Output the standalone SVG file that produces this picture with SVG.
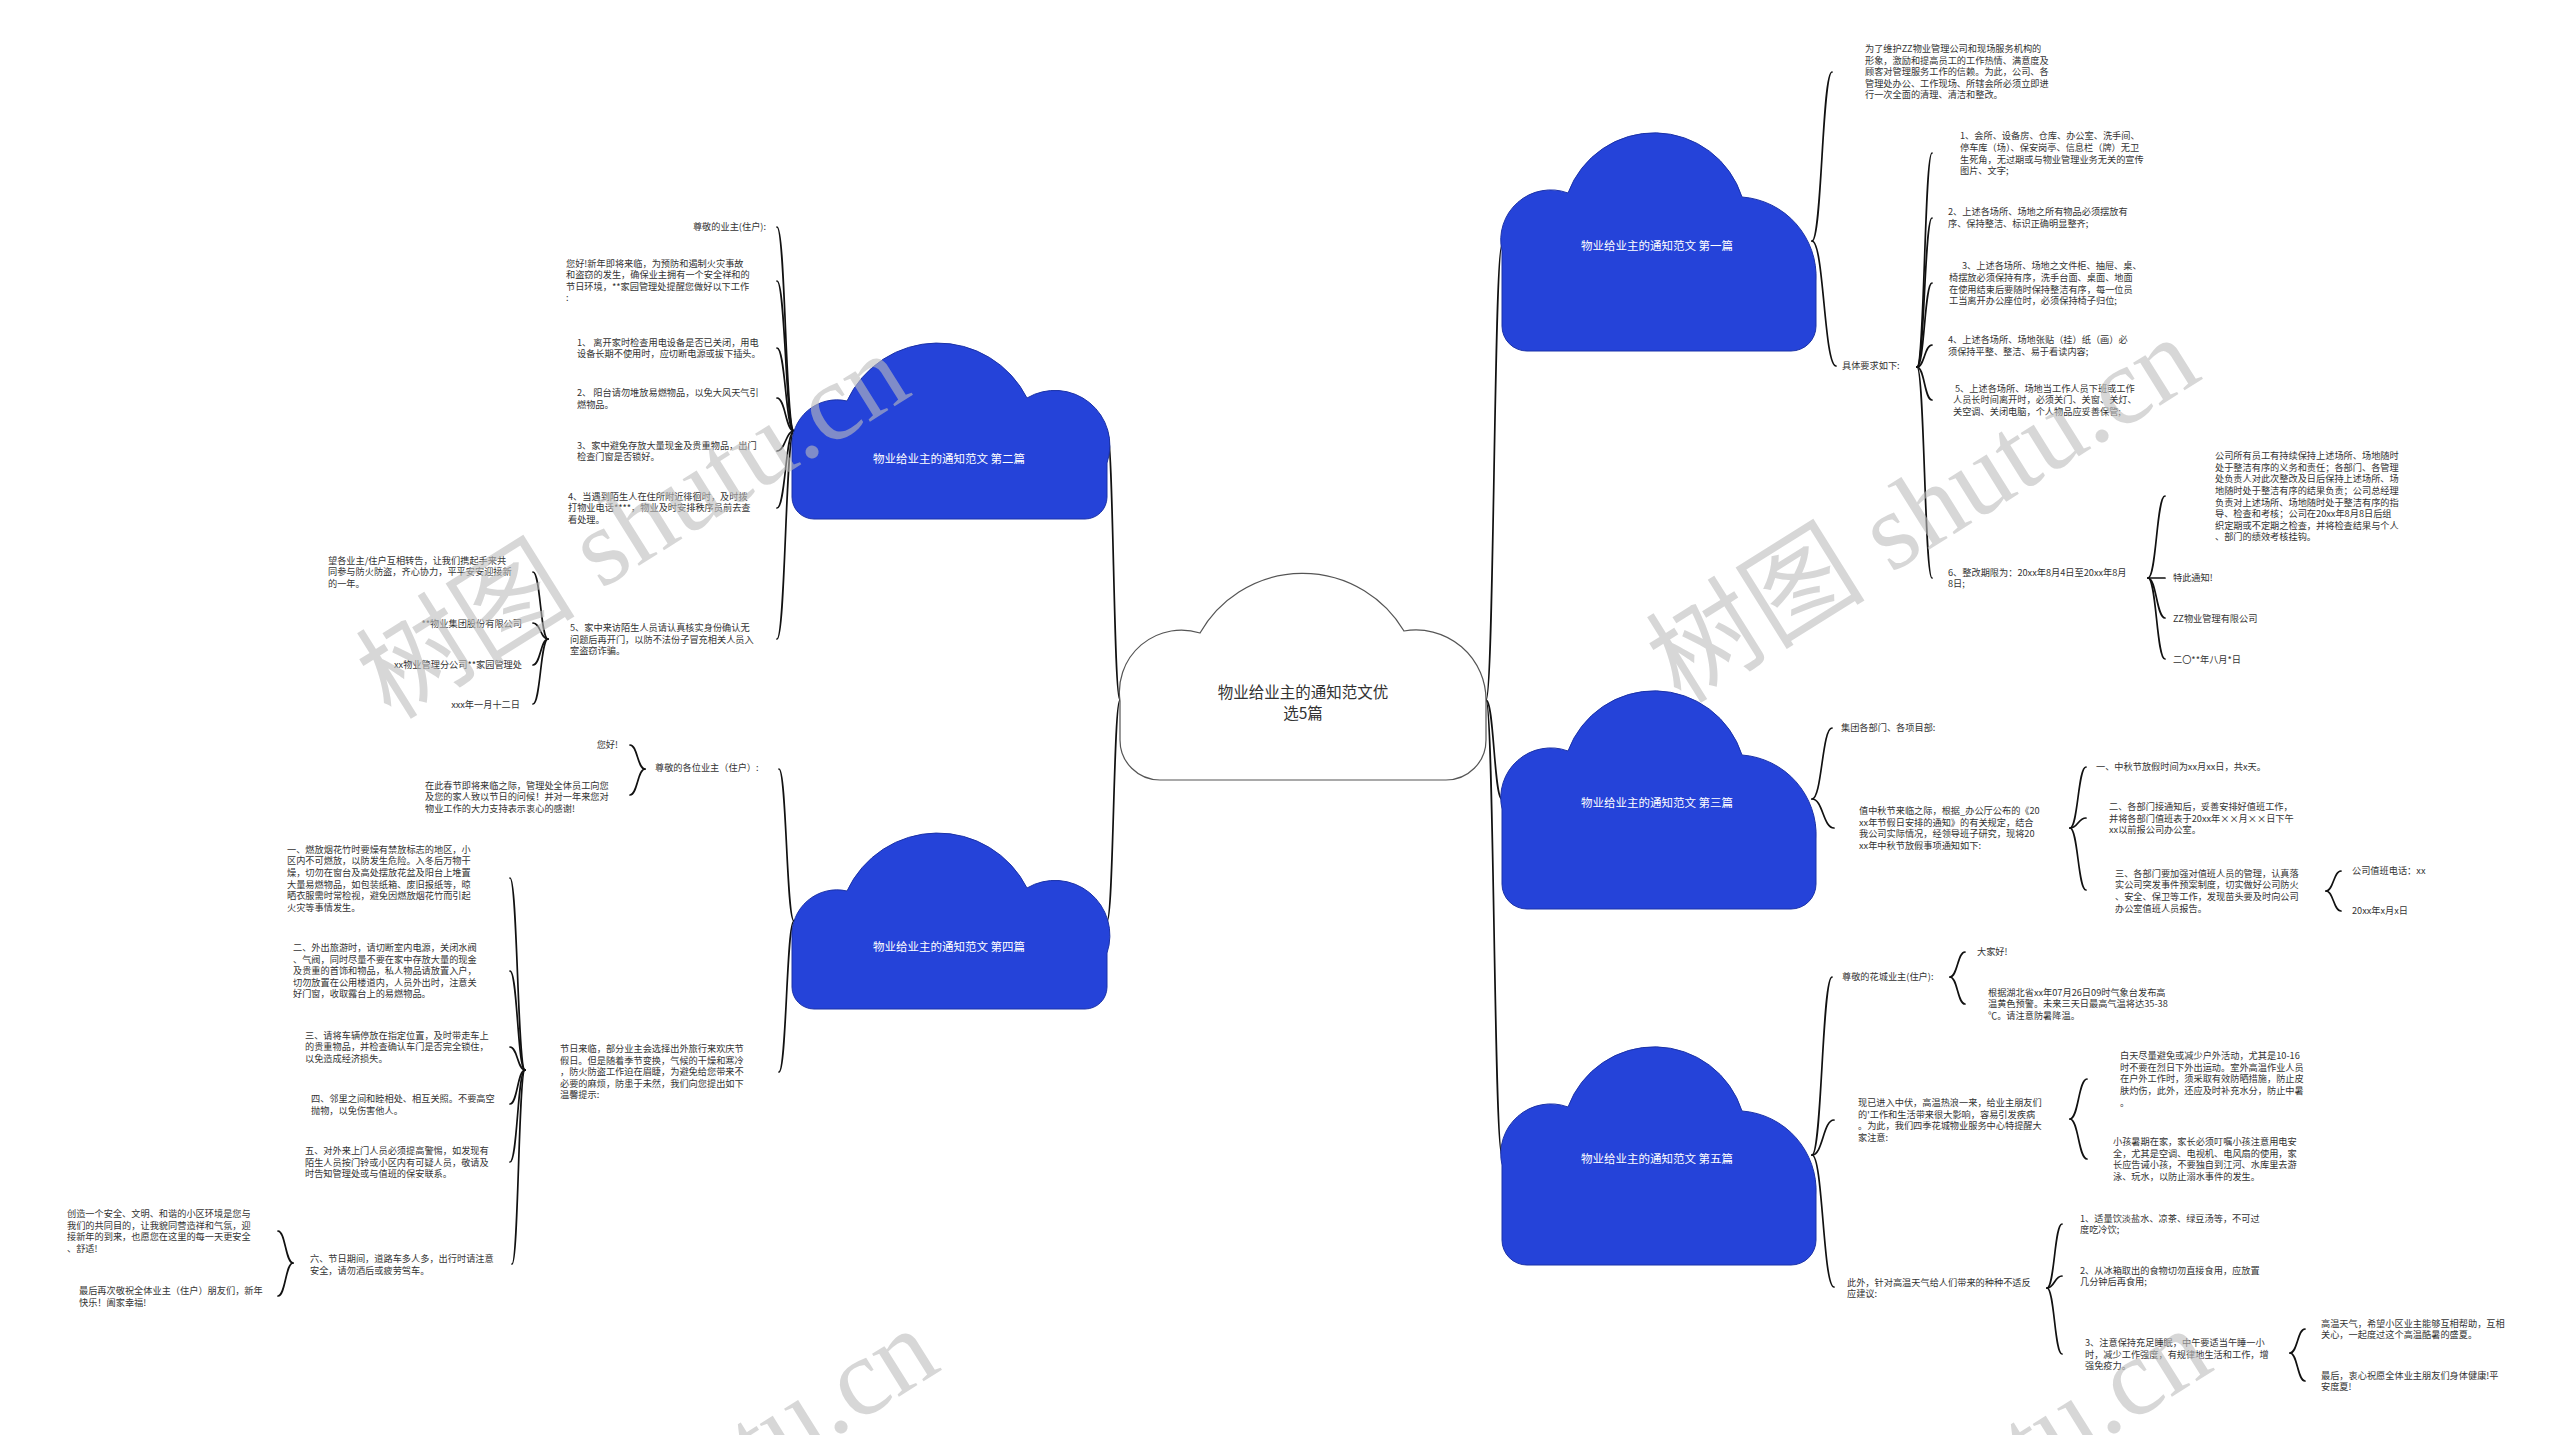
<svg xmlns="http://www.w3.org/2000/svg" width="2560" height="1435" viewBox="0 0 2560 1435">
<defs>
<style>
.t{font-family:"Noto Sans CJK SC","Noto Sans",sans-serif;font-size:9.2px;fill:#333}
.e{text-anchor:end}
.c{fill:none;stroke:#111;stroke-width:1.7;stroke-linecap:round}
.cl{fill:#2543d9;stroke:#1b32a8;stroke-width:1}
.ct{font-family:"Noto Sans CJK SC","Noto Sans",sans-serif;font-size:11.5px;fill:#fff;text-anchor:middle}
.wm{font-family:"Liberation Serif","Noto Sans CJK SC",serif;font-size:110px;fill:#bdbdbd;opacity:.6;text-anchor:middle;dominant-baseline:central}
</style>
<path id="cloudR" d="M25,220 H289 A25,25 0 0 0 314,195 V150 A80,80 0 0 0 240,66 A92,92 0 0 0 66,62 A50,50 0 0 0 0,120 V195 A25,25 0 0 0 25,220 Z"/>
<path id="cloudL" d="M22,176 H293 A22,22 0 0 0 315,154 V120 A55,55 0 0 0 235,55 A100,100 0 0 0 55,58 A45,45 0 0 0 0,105 V154 A22,22 0 0 0 22,176 Z"/>
</defs>
<rect width="2560" height="1435" fill="#fff"/>

<g id="connectors">
<path class="c" d="M1486 700C1494 700 1494 245 1502 245"/>
<path class="c" d="M1486 700C1494 700 1494 799 1502 799"/>
<path class="c" d="M1486 700C1494 700 1494 1155 1502 1155"/>
<path class="c" d="M1120 700C1113.5 700 1113.5 431 1107 431"/>
<path class="c" d="M1120 700C1113.5 700 1113.5 921 1107 921"/>

<path class="c" d="M1812 241C1822 241 1822 72 1832 72"/>
<path class="c" d="M1812 241C1824 241 1824 366 1836 366"/>
<path class="c" d="M1917 367C1924.5 367 1924.5 153 1932 153"/>
<path class="c" d="M1917 367C1924.5 367 1924.5 218 1932 218"/>
<path class="c" d="M1917 367C1924.5 367 1924.5 283 1932 283"/>
<path class="c" d="M1917 367C1924.5 367 1924.5 345 1932 345"/>
<path class="c" d="M1917 367C1924.5 367 1924.5 400 1932 400"/>
<path class="c" d="M1917 367C1924.5 367 1924.5 578 1932 578"/>
<path class="c" d="M2148 578C2156.5 578 2156.5 496 2165 496"/>
<path class="c" d="M2148 578C2156.5 578 2156.5 578 2165 578"/>
<path class="c" d="M2148 578C2156.5 578 2156.5 618 2165 618"/>
<path class="c" d="M2148 578C2156.5 578 2156.5 659 2165 659"/>

<path class="c" d="M1812 799C1822 799 1822 728 1832 728"/>
<path class="c" d="M1812 799C1823 799 1823 828 1834 828"/>
<path class="c" d="M2070 828C2078 828 2078 767 2086 767"/>
<path class="c" d="M2070 828C2078 828 2078 818 2086 818"/>
<path class="c" d="M2070 828C2078 828 2078 890 2086 890"/>
<path class="c" d="M2326 891C2333.5 891 2333.5 871 2341 871"/>
<path class="c" d="M2326 891C2333.5 891 2333.5 911 2341 911"/>

<path class="c" d="M1812 1155C1822 1155 1822 977 1832 977"/>
<path class="c" d="M1812 1155C1823 1155 1823 1120 1834 1120"/>
<path class="c" d="M1812 1155C1823 1155 1823 1287 1834 1287"/>
<path class="c" d="M1950 977C1957.5 977 1957.5 952 1965 952"/>
<path class="c" d="M1950 977C1957.5 977 1957.5 1004 1965 1004"/>
<path class="c" d="M2070 1119C2078.5 1119 2078.5 1079 2087 1079"/>
<path class="c" d="M2070 1119C2078.5 1119 2078.5 1159 2087 1159"/>
<path class="c" d="M2047 1288C2054.5 1288 2054.5 1224 2062 1224"/>
<path class="c" d="M2047 1288C2054.5 1288 2054.5 1276 2062 1276"/>
<path class="c" d="M2047 1288C2054.5 1288 2054.5 1354 2062 1354"/>
<path class="c" d="M2290 1353C2297.5 1353 2297.5 1329 2305 1329"/>
<path class="c" d="M2290 1353C2297.5 1353 2297.5 1381 2305 1381"/>

<path class="c" d="M794 431C785.5 431 785.5 227 777 227"/>
<path class="c" d="M794 431C785.5 431 785.5 281 777 281"/>
<path class="c" d="M794 431C785.5 431 785.5 348 777 348"/>
<path class="c" d="M794 431C785.5 431 785.5 398 777 398"/>
<path class="c" d="M794 431C785.5 431 785.5 451 777 451"/>
<path class="c" d="M794 431C785.5 431 785.5 508 777 508"/>
<path class="c" d="M794 431C785.5 431 785.5 639 777 639"/>
<path class="c" d="M548 639C540.5 639 540.5 572 533 572"/>
<path class="c" d="M548 639C540.5 639 540.5 623 533 623"/>
<path class="c" d="M548 639C540.5 639 540.5 665 533 665"/>
<path class="c" d="M548 639C540.5 639 540.5 704 533 704"/>

<path class="c" d="M794 921C786.5 921 786.5 769 779 769"/>
<path class="c" d="M794 921C786.5 921 786.5 1072 779 1072"/>
<path class="c" d="M645 769C637.5 769 637.5 745 630 745"/>
<path class="c" d="M645 769C637.5 769 637.5 795 630 795"/>
<path class="c" d="M525 1070C517.5 1070 517.5 878 510 878"/>
<path class="c" d="M525 1070C517.5 1070 517.5 971 510 971"/>
<path class="c" d="M525 1070C517.5 1070 517.5 1047 510 1047"/>
<path class="c" d="M525 1070C517.5 1070 517.5 1104 510 1104"/>
<path class="c" d="M525 1070C517.5 1070 517.5 1162 510 1162"/>
<path class="c" d="M525 1070C518.5 1070 518.5 1264 512 1264"/>
<path class="c" d="M293 1263C285.5 1263 285.5 1231 278 1231"/>
<path class="c" d="M293 1263C285.5 1263 285.5 1296 278 1296"/>
</g>

<g id="root">
<path transform="translate(1120,571)" d="M40,209 L326,209 A40,40 0 0 0 366,169 L366,130 A70,70 0 0 0 284,60 A118,118 0 0 0 80,62 A62,62 0 0 0 0,130 L0,169 A40,40 0 0 0 40,209 Z" fill="#fff" stroke="#555" stroke-width="1.2"/>
<text font-family="Noto Sans CJK SC, Noto Sans, sans-serif" font-size="15.5" fill="#333" text-anchor="middle"><tspan x="1303" y="697.5">物业给业主的通知范文优</tspan><tspan x="1303" y="718.5">选5篇</tspan></text>
</g>

<g id="n1">
<use href="#cloudR" x="1502" y="131" class="cl"/>
<text class="ct" x="1657" y="250">物业给业主的通知范文 第一篇</text>
</g>
<g id="n3">
<use href="#cloudR" x="1502" y="689" class="cl"/>
<text class="ct" x="1657" y="807">物业给业主的通知范文 第三篇</text>
</g>
<g id="n5">
<use href="#cloudR" x="1502" y="1045" class="cl"/>
<text class="ct" x="1657" y="1163">物业给业主的通知范文 第五篇</text>
</g>
<g id="n2">
<use href="#cloudL" x="792" y="343" class="cl"/>
<text class="ct" x="949" y="463">物业给业主的通知范文 第二篇</text>
</g>
<g id="n4">
<use href="#cloudL" x="792" y="833" class="cl"/>
<text class="ct" x="949" y="951">物业给业主的通知范文 第四篇</text>
</g>

<g id="n1-a"><text class="t"><tspan x="1865" y="52">为了维护ZZ物业管理公司和现场服务机构的</tspan><tspan x="1865" dy="11.6">形象，激励和提高员工的工作热情、满意度及</tspan><tspan x="1865" dy="11.6">顾客对管理服务工作的信赖。为此，公司、各</tspan><tspan x="1865" dy="11.6">管理处办公、工作现场、所辖会所必须立即进</tspan><tspan x="1865" dy="11.6">行一次全面的清理、清洁和整改。</tspan></text></g>
<g id="n1-b"><text class="t" x="1842" y="369.4">具体要求如下:</text></g>
<g id="n1-b1"><text class="t"><tspan x="1960" y="139.4">1、会所、设备房、仓库、办公室、洗手间、</tspan><tspan x="1960" dy="11.6">停车库（场）、保安岗亭、信息栏（牌）无卫</tspan><tspan x="1960" dy="11.6">生死角，无过期或与物业管理业务无关的宣传</tspan><tspan x="1960" dy="11.6">图片、文字;</tspan></text></g>
<g id="n1-b2"><text class="t"><tspan x="1948" y="215.1">2、上述各场所、场地之所有物品必须摆放有</tspan><tspan x="1948" dy="11.6">序、保持整洁、标识正确明显整齐;</tspan></text></g>
<g id="n1-b3"><text class="t"><tspan x="1962" y="269.4">3、上述各场所、场地之文件柜、抽屉、桌、</tspan><tspan x="1949" dy="11.6">椅摆放必须保持有序，洗手台面、桌面、地面</tspan><tspan x="1949" dy="11.6">在使用结束后要随时保持整洁有序，每一位员</tspan><tspan x="1949" dy="11.6">工当离开办公座位时，必须保持椅子归位;</tspan></text></g>
<g id="n1-b4"><text class="t"><tspan x="1948" y="343.1">4、上述各场所、场地张贴（挂）纸（画）必</tspan><tspan x="1948" dy="11.6">须保持平整、整洁、易于看读内容;</tspan></text></g>
<g id="n1-b5"><text class="t"><tspan x="1955" y="391.8">5、上述各场所、场地当工作人员下班或工作</tspan><tspan x="1953" dy="11.6">人员长时间离开时，必须关门、关窗、关灯、</tspan><tspan x="1953" dy="11.6">关空调、关闭电脑，个人物品应妥善保管;</tspan></text></g>
<g id="n1-b6"><text class="t"><tspan x="1948" y="575.5">6、整改期限为：20xx年8月4日至20xx年8月</tspan><tspan x="1948" dy="11.6">8日;</tspan></text></g>
<g id="n1-b6a"><text class="t"><tspan x="2215" y="459.1">公司所有员工有持续保持上述场所、场地随时</tspan><tspan x="2215" dy="11.6">处于整洁有序的义务和责任；各部门、各管理</tspan><tspan x="2215" dy="11.6">处负责人对此次整改及日后保持上述场所、场</tspan><tspan x="2215" dy="11.6">地随时处于整洁有序的结果负责；公司总经理</tspan><tspan x="2215" dy="11.6">负责对上述场所、场地随时处于整洁有序的指</tspan><tspan x="2215" dy="11.6">导、检查和考核；公司在20xx年8月8日后组</tspan><tspan x="2215" dy="11.6">织定期或不定期之检查，并将检查结果与个人</tspan><tspan x="2215" dy="11.6">、部门的绩效考核挂钩。</tspan></text></g>
<g id="n1-b6b"><text class="t" x="2173" y="581.1">特此通知!</text></g>
<g id="n1-b6c"><text class="t" x="2173" y="621.7">ZZ物业管理有限公司</text></g>
<g id="n1-b6d"><text class="t" x="2173" y="662.7">二〇**年八月*日</text></g>

<g id="n3-a"><text class="t" x="1841" y="731.4">集团各部门、各项目部:</text></g>
<g id="n3-b"><text class="t"><tspan x="1859" y="813.9">值中秋节来临之际，根据_办公厅公布的《20</tspan><tspan x="1859" dy="11.6">xx年节假日安排的通知》的有关规定，结合</tspan><tspan x="1859" dy="11.6">我公司实际情况，经领导班子研究，现将20</tspan><tspan x="1859" dy="11.6">xx年中秋节放假事项通知如下:</tspan></text></g>
<g id="n3-b1"><text class="t" x="2096" y="770.1">一、中秋节放假时间为xx月xx日，共x天。</text></g>
<g id="n3-b2"><text class="t"><tspan x="2109" y="810.2">二、各部门接通知后，妥善安排好值班工作，</tspan><tspan x="2109" dy="11.6">并将各部门值班表于20xx年××月××日下午</tspan><tspan x="2109" dy="11.6">xx以前报公司办公室。</tspan></text></g>
<g id="n3-b3"><text class="t"><tspan x="2115" y="876.8">三、各部门要加强对值班人员的管理，认真落</tspan><tspan x="2115" dy="11.6">实公司突发事件预案制度，切实做好公司防火</tspan><tspan x="2115" dy="11.6">、安全、保卫等工作，发现苗头要及时向公司</tspan><tspan x="2115" dy="11.6">办公室值班人员报告。</tspan></text></g>
<g id="n3-b3a"><text class="t" x="2352" y="874.1">公司值班电话：xx</text></g>
<g id="n3-b3b"><text class="t" x="2352" y="914.1">20xx年x月x日</text></g>

<g id="n5-a"><text class="t" x="1842" y="980.1">尊敬的花城业主(住户):</text></g>
<g id="n5-a1"><text class="t" x="1977" y="955.1">大家好!</text></g>
<g id="n5-a2"><text class="t"><tspan x="1988" y="995.7">根据湖北省xx年07月26日09时气象台发布高</tspan><tspan x="1988" dy="11.6">温黄色预警。未来三天日最高气温将达35-38</tspan><tspan x="1988" dy="11.6">℃。请注意防暑降温。</tspan></text></g>
<g id="n5-b"><text class="t"><tspan x="1858" y="1106">现已进入中伏，高温热浪一来，给业主朋友们</tspan><tspan x="1858" dy="11.6">的'工作和生活带来很大影响，容易引发疾病</tspan><tspan x="1858" dy="11.6">。为此，我们四季花城物业服务中心特提醒大</tspan><tspan x="1858" dy="11.6">家注意:</tspan></text></g>
<g id="n5-b1"><text class="t"><tspan x="2120" y="1059.1">白天尽量避免或减少户外活动，尤其是10-16</tspan><tspan x="2120" dy="11.6">时不要在烈日下外出运动。室外高温作业人员</tspan><tspan x="2120" dy="11.6">在户外工作时，须采取有效防晒措施，防止皮</tspan><tspan x="2120" dy="11.6">肤灼伤，此外，还应及时补充水分，防止中暑</tspan><tspan x="2120" dy="11.6">。</tspan></text></g>
<g id="n5-b2"><text class="t"><tspan x="2113" y="1145.2">小孩暑期在家，家长必须叮嘱小孩注意用电安</tspan><tspan x="2113" dy="11.6">全，尤其是空调、电视机、电风扇的使用，家</tspan><tspan x="2113" dy="11.6">长应告诫小孩，不要独自到江河、水库里去游</tspan><tspan x="2113" dy="11.6">泳、玩水，以防止溺水事件的发生。</tspan></text></g>
<g id="n5-c"><text class="t"><tspan x="1847" y="1285.6">此外，针对高温天气给人们带来的种种不适反</tspan><tspan x="1847" dy="11.6">应建议:</tspan></text></g>
<g id="n5-c1"><text class="t"><tspan x="2080" y="1221.8">1、适量饮淡盐水、凉茶、绿豆汤等，不可过</tspan><tspan x="2080" dy="11.6">度吃冷饮;</tspan></text></g>
<g id="n5-c2"><text class="t"><tspan x="2080" y="1273.8">2、从冰箱取出的食物切勿直接食用，应放置</tspan><tspan x="2080" dy="11.6">几分钟后再食用;</tspan></text></g>
<g id="n5-c3"><text class="t"><tspan x="2085" y="1346">3、注意保持充足睡眠，中午要适当午睡一小</tspan><tspan x="2085" dy="11.6">时，减少工作强度，有规律地生活和工作，增</tspan><tspan x="2085" dy="11.6">强免疫力。</tspan></text></g>
<g id="n5-c3a"><text class="t"><tspan x="2321" y="1326.8">高温天气，希望小区业主能够互相帮助，互相</tspan><tspan x="2321" dy="11.6">关心，一起度过这个高温酷暑的盛夏。</tspan></text></g>
<g id="n5-c3b"><text class="t"><tspan x="2321" y="1378.5">最后，衷心祝愿全体业主朋友们身体健康!平</tspan><tspan x="2321" dy="11.6">安度夏!</tspan></text></g>

<g id="n2-a"><text class="t e" x="766" y="230.1">尊敬的业主(住户):</text></g>
<g id="n2-b"><text class="t"><tspan x="566" y="266.5">您好!新年即将来临，为预防和遏制火灾事故</tspan><tspan x="566" dy="11.6">和盗窃的发生，确保业主拥有一个安全祥和的</tspan><tspan x="566" dy="11.6">节日环境，**家园管理处提醒您做好以下工作</tspan><tspan x="566" dy="11.6">:</tspan></text></g>
<g id="n2-c"><text class="t"><tspan x="577" y="345.8">1、 离开家时检查用电设备是否已关闭，用电</tspan><tspan x="577" dy="11.6">设备长期不使用时，应切断电源或拔下插头。</tspan></text></g>
<g id="n2-d"><text class="t"><tspan x="577" y="396">2、 阳台请勿堆放易燃物品，以免大风天气引</tspan><tspan x="577" dy="11.6">燃物品。</tspan></text></g>
<g id="n2-e"><text class="t"><tspan x="577" y="448.5">3、家中避免存放大量现金及贵重物品，出门</tspan><tspan x="577" dy="11.6">检查门窗是否锁好。</tspan></text></g>
<g id="n2-f"><text class="t"><tspan x="568" y="499.5">4、当遇到陌生人在住所附近徘徊时，及时拨</tspan><tspan x="568" dy="11.6">打物业电话****，物业及时安排秩序员前去查</tspan><tspan x="568" dy="11.6">看处理。</tspan></text></g>
<g id="n2-g"><text class="t"><tspan x="570" y="631">5、家中来访陌生人员请认真核实身份确认无</tspan><tspan x="570" dy="11.6">问题后再开门，以防不法份子冒充相关人员入</tspan><tspan x="570" dy="11.6">室盗窃诈骗。</tspan></text></g>
<g id="n2-g1"><text class="t"><tspan x="328" y="563.8">望各业主/住户互相转告，让我们携起手来共</tspan><tspan x="328" dy="11.6">同参与防火防盗，齐心协力，平平安安迎接新</tspan><tspan x="328" dy="11.6">的一年。</tspan></text></g>
<g id="n2-g2"><text class="t e" x="522" y="626.7">**物业集团股份有限公司</text></g>
<g id="n2-g3"><text class="t e" x="522" y="668.4">xx物业管理分公司**家园管理处</text></g>
<g id="n2-g4"><text class="t e" x="520" y="707.7">xxx年一月十二日</text></g>

<g id="n4-a"><text class="t" x="655" y="771.4">尊敬的各位业主（住户）:</text></g>
<g id="n4-a1"><text class="t e" x="618" y="748.4">您好!</text></g>
<g id="n4-a2"><text class="t"><tspan x="425" y="788.5">在此春节即将来临之际，管理处全体员工向您</tspan><tspan x="425" dy="11.6">及您的家人致以节日的问候！并对一年来您对</tspan><tspan x="425" dy="11.6">物业工作的大力支持表示衷心的感谢!</tspan></text></g>
<g id="n4-b"><text class="t"><tspan x="560" y="1051.9">节日来临，部分业主会选择出外旅行来欢庆节</tspan><tspan x="560" dy="11.6">假日。但是随着季节变换，气候的干燥和寒冷</tspan><tspan x="560" dy="11.6">，防火防盗工作迫在眉睫，为避免给您带来不</tspan><tspan x="560" dy="11.6">必要的麻烦，防患于未然，我们向您提出如下</tspan><tspan x="560" dy="11.6">温馨提示:</tspan></text></g>
<g id="n4-b1"><text class="t"><tspan x="287" y="852.7">一、燃放烟花竹时要燥有禁放标志的地区，小</tspan><tspan x="287" dy="11.6">区内不可燃放，以防发生危险。入冬后万物干</tspan><tspan x="287" dy="11.6">燥，切勿在窗台及高处摆放花盆及阳台上堆置</tspan><tspan x="287" dy="11.6">大量易燃物品，如包装纸箱、废旧报纸等，晾</tspan><tspan x="287" dy="11.6">晒衣服需时常检视，避免因燃放烟花竹而引起</tspan><tspan x="287" dy="11.6">火灾等事情发生。</tspan></text></g>
<g id="n4-b2"><text class="t"><tspan x="293" y="951">二、外出旅游时，请切断室内电源，关闭水阀</tspan><tspan x="293" dy="11.6">、气阀，同时尽量不要在家中存放大量的现金</tspan><tspan x="293" dy="11.6">及贵重的首饰和物品，私人物品请放置入户，</tspan><tspan x="293" dy="11.6">切勿放置在公用楼道内，人员外出时，注意关</tspan><tspan x="293" dy="11.6">好门窗，收取露台上的易燃物品。</tspan></text></g>
<g id="n4-b3"><text class="t"><tspan x="305" y="1038.5">三、请将车辆停放在指定位置，及时带走车上</tspan><tspan x="305" dy="11.6">的贵重物品，并检查确认车门是否完全锁住，</tspan><tspan x="305" dy="11.6">以免造成经济损失。</tspan></text></g>
<g id="n4-b4"><text class="t"><tspan x="311" y="1102.1">四、邻里之间和睦相处、相互关照。不要高空</tspan><tspan x="311" dy="11.6">抛物，以免伤害他人。</tspan></text></g>
<g id="n4-b5"><text class="t"><tspan x="305" y="1154.2">五、对外来上门人员必须提高警惕，如发现有</tspan><tspan x="305" dy="11.6">陌生人员按门铃或小区内有可疑人员，敬请及</tspan><tspan x="305" dy="11.6">时告知管理处或与值班的保安联系。</tspan></text></g>
<g id="n4-b6"><text class="t"><tspan x="310" y="1262">六、节日期间，道路车多人多，出行时请注意</tspan><tspan x="310" dy="11.6">安全，请勿酒后或疲劳驾车。</tspan></text></g>
<g id="n4-b6a"><text class="t"><tspan x="67" y="1217.2">创造一个安全、文明、和谐的小区环境是您与</tspan><tspan x="67" dy="11.6">我们的共同目的，让我貌同营造祥和气氛，迎</tspan><tspan x="67" dy="11.6">接新年的到来，也愿您在这里的每一天更安全</tspan><tspan x="67" dy="11.6">、舒适!</tspan></text></g>
<g id="n4-b6b"><text class="t"><tspan x="79" y="1294.1">最后再次敬祝全体业主（住户）朋友们，新年</tspan><tspan x="79" dy="11.6">快乐！阖家幸福!</tspan></text></g>

<g id="watermarks">
<text class="wm" transform="translate(633,526) rotate(-32)">树图 shutu.cn</text>
<text class="wm" transform="translate(1923,510) rotate(-32)">树图 shutu.cn</text>
<text class="wm" transform="translate(662,1501) rotate(-32)">树图 shutu.cn</text>
<text class="wm" transform="translate(1935,1501) rotate(-32)">树图 shutu.cn</text>
</g>
</svg>
